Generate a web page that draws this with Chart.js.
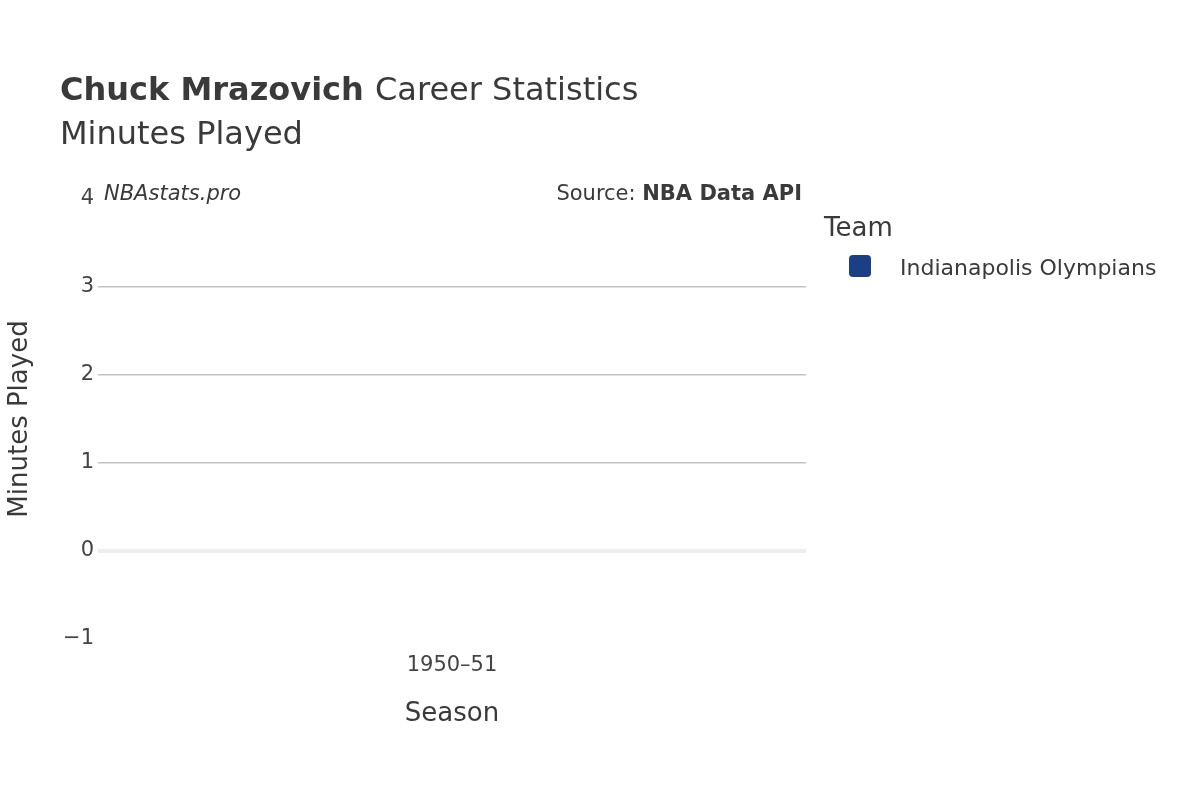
<!DOCTYPE html>
<html>
<head>
<meta charset="utf-8">
<script src="https://cdn.jsdelivr.net/npm/chart.js@4"></script>
<style>
  body { margin: 0; background: #fff; }
  #wrap { width: 1200px; height: 800px; }
</style>
</head>
<body>
<div id="wrap"><canvas id="chart" width="1200" height="800"></canvas></div>
<script>
// chart data
const seasons = ['1950–51'];
const teamName = 'Indianapolis Olympians';
const minutesPlayed = [0];
const teamColor = '#1b3f85';

const font = 'DejaVu Sans';
const textColor = '#444444';

// draws title, watermark, source, axis titles and legend at fixed spots
const overlay = {
    id: 'overlay',
    afterDraw(chart) {
        const c = chart.ctx;
        c.save();
        c.fillStyle = '#3a3a3a';
        c.textBaseline = 'alphabetic';
        c.textAlign = 'left';
        c.font = 'bold 32px "' + font + '"';
        c.fillText('Chuck Mrazovich', 60, 100);
        const w = c.measureText('Chuck Mrazovich ').width;
        c.font = '32px "' + font + '"';
        c.fillText('Career Statistics', 60 + w, 100);
        c.fillText('Minutes Played', 60, 144);

        c.font = 'italic 21px "' + font + '"';
        c.fillText('NBAstats.pro', 104, 200);
        c.textAlign = 'right';
        c.font = 'bold 21px "' + font + '"';
        c.fillText('NBA Data API', 802, 200);
        const bw = c.measureText('NBA Data API').width;
        c.font = '21px "' + font + '"';
        c.fillText('Source: ', 802 - bw, 200);

        c.textAlign = 'center';
        c.font = '26px "' + font + '"';
        c.fillText('Season', 452, 721);
        c.save();
        c.translate(27, 419);
        c.rotate(-Math.PI / 2);
        c.fillText('Minutes Played', 0, 0);
        c.restore();

        c.textAlign = 'left';
        c.font = '26px "' + font + '"';
        c.fillText('Team', 824, 236);
        c.fillStyle = chart.data.datasets[0].backgroundColor;
        c.beginPath();
        c.roundRect(849, 255, 22, 22, 4);
        c.fill();
        c.fillStyle = '#3a3a3a';
        c.font = '22px "' + font + '"';
        c.fillText(chart.data.datasets[0].label, 900, 275);
        c.restore();
    }
};

new Chart(document.getElementById('chart').getContext('2d'), {
    type: 'bar',
    data: {
        labels: seasons,
        datasets: [{
            label: teamName,
            data: minutesPlayed,
            backgroundColor: teamColor
        }]
    },
    options: {
        responsive: false,
        animation: false,
        layout: { padding: { left: 0, top: 199, right: 394, bottom: 0 } },
        plugins: { legend: { display: false }, tooltip: { enabled: false } },
        scales: {
            x: {
                afterFit: s => { s.height = 161; },
                grid: { display: false },
                border: { display: false },
                ticks: { color: textColor, font: { family: font, size: 21 }, padding: 6 }
            },
            y: {
                min: -1,
                max: 4,
                afterFit: s => { s.width = 98; },
                border: { display: false },
                grid: {
                    drawTicks: false,
                    color: ctx => ctx.tick.value === 0 ? '#eeeeee'
                        : (ctx.tick.value > 0 && ctx.tick.value < 4 ? '#c4c4c4' : 'rgba(0,0,0,0)'),
                    lineWidth: ctx => ctx.tick.value === 0 ? 4 : 1.5
                },
                ticks: { stepSize: 1, color: textColor, font: { family: font, size: 21 }, padding: 4,
                    callback: v => v < 0 ? '\u2212' + Math.abs(v) : v }
            }
        }
    },
    plugins: [overlay]
});
</script>
</body>
</html>
